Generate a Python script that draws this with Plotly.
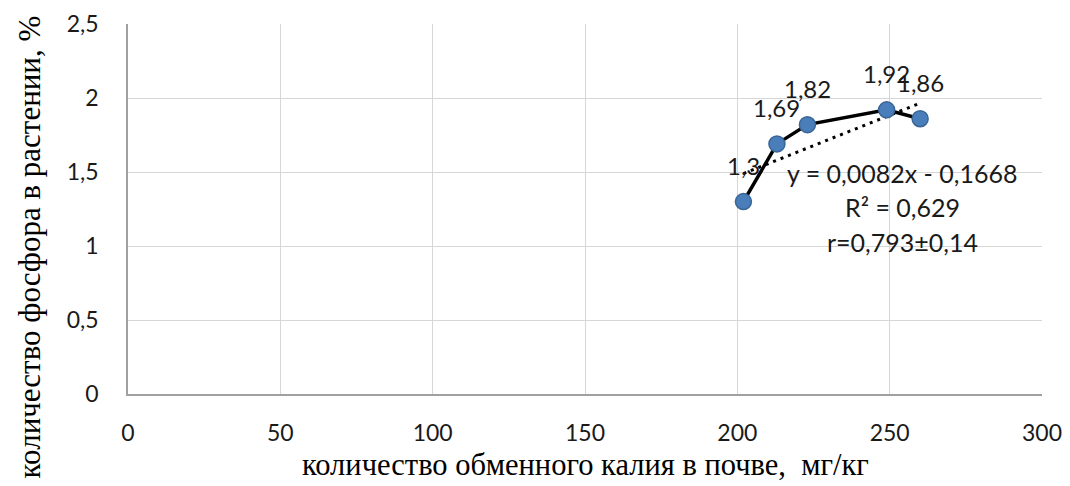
import plotly.graph_objects as go

# Data
potassium = [202, 213, 223, 249, 260]          # мг/кг
phosphorus = [1.30, 1.69, 1.82, 1.92, 1.86]    # %
point_labels = ["1,3", "1,69", "1,82", "1,92", "1,86"]
trend_slope = 0.0082
trend_intercept = -0.1668
eq_lines = ["y = 0,0082x - 0,1668", "R² = 0,629", "r=0,793±0,14"]
x_ticks = [0, 50, 100, 150, 200, 250, 300]
x_ticklabels = ["0", "50", "100", "150", "200", "250", "300"]
y_ticks = [0, 0.5, 1, 1.5, 2, 2.5]
y_ticklabels = ["0", "0,5", "1", "1,5", "2", "2,5"]
x_title = "количество обменного калия в почве,  мг/кг"
y_title = "количество фосфора в растении, %"

trend_x = [min(potassium), max(potassium)]
trend_y = [trend_slope * v + trend_intercept for v in trend_x]

SANS = "Lato, Calibri, sans-serif"
SERIF = "Liberation Serif, Times New Roman, serif"
TXT = "#1a1a1a"

fig = go.Figure()
fig.add_trace(go.Scatter(
    x=trend_x, y=trend_y, mode="lines",
    line=dict(color="black", width=3, dash="3px,5px"),
    hoverinfo="skip", showlegend=False))
fig.add_trace(go.Scatter(
    x=potassium, y=phosphorus, mode="lines+markers",
    line=dict(color="black", width=3.5),
    marker=dict(size=16, color="#4a7ebb", line=dict(color="#3a6696", width=1.5)),
    showlegend=False))

annotations = []
for xv, yv, lab in zip(potassium, phosphorus, point_labels):
    annotations.append(dict(x=xv, y=yv, xref="x", yref="y", text=lab, showarrow=False,
                            yshift=36, font=dict(family=SANS, size=24, color=TXT)))
eq_y = [1.493, 1.264, 1.027]
for yy, line in zip(eq_y, eq_lines):
    annotations.append(dict(x=254.2, y=yy, xref="x", yref="y", text=line, showarrow=False,
                            font=dict(family=SANS, size=25, color=TXT)))
annotations.append(dict(x=0.5, y=-0.192, xref="paper", yref="paper", text=x_title,
                        showarrow=False, yanchor="middle",
                        font=dict(family=SERIF, size=30.5, color="black")))
annotations.append(dict(x=-0.108, y=0.397, xref="paper", yref="paper", text=y_title,
                        showarrow=False, textangle=-90, xanchor="center", yanchor="middle",
                        font=dict(family=SERIF, size=31, color="black")))

fig.update_layout(
    width=1062, height=478,
    margin=dict(l=120, r=28, t=16, b=92),
    plot_bgcolor="white", paper_bgcolor="white",
    annotations=annotations,
    xaxis=dict(range=[0, 300], tickvals=x_ticks, ticktext=x_ticklabels,
               showgrid=True, gridcolor="#d6d6d6", gridwidth=1,
               showline=True, linecolor="#a0a0a0", linewidth=1.5,
               zeroline=False, ticks="", ticklabelstandoff=18,
               ticklabeloverflow="allow", automargin=False,
               tickfont=dict(family=SANS, size=23, color=TXT)),
    yaxis=dict(range=[0, 2.5], tickvals=y_ticks, ticktext=y_ticklabels,
               showgrid=True, gridcolor="#d6d6d6", gridwidth=1,
               showline=True, linecolor="#a0a0a0", linewidth=1.5,
               zeroline=False, ticks="", ticklabelstandoff=23,
               ticklabeloverflow="allow", automargin=False,
               tickfont=dict(family=SANS, size=23, color=TXT)),
)

fig.write_html("out.html")
